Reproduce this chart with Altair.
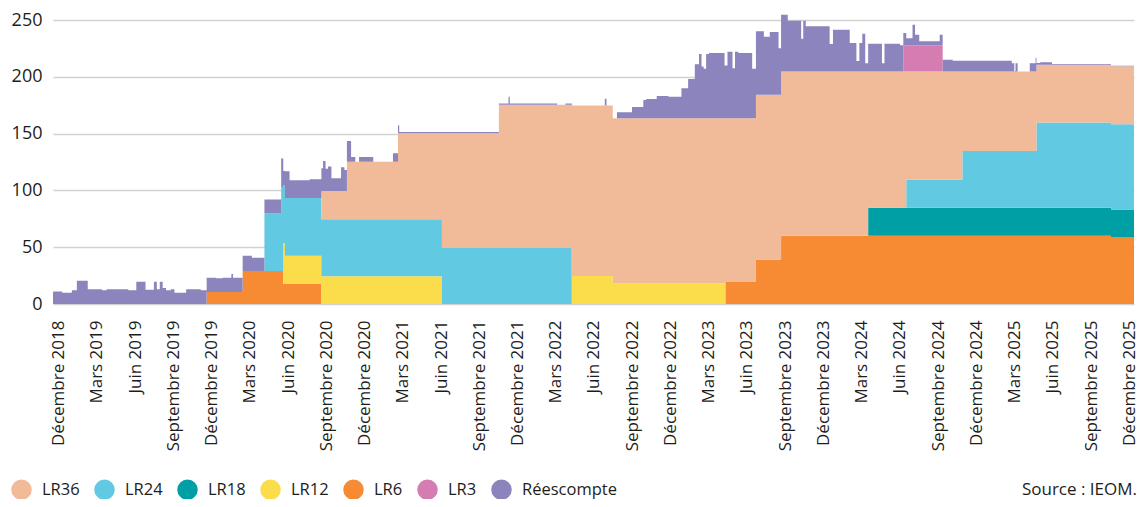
import altair as alt
import pandas as pd

# ---- data (date, value) step breakpoints, Md XPF ----
start_date = "2018-11-17"
end_date = "2025-12-12"

lr6 = [("2018-11-17", 0), ("2019-11-19", 10.6), ("2020-02-13", 29.1), ("2020-05-20", 17.6),
       ("2020-08-19", 0), ("2023-04-11", 19.4), ("2023-06-23", 39.1), ("2023-08-22", 60),
       ("2025-10-18", 58.5)]
lr12 = [("2018-11-17", 0), ("2020-05-20", 36), ("2020-05-24", 24.8), ("2020-08-19", 24.4),
        ("2021-06-03", 0), ("2022-04-09", 24.7), ("2022-07-16", 18.2), ("2023-04-11", 0)]
lr18 = [("2018-11-17", 0), ("2024-03-17", 24.7)]
lr24 = [("2018-11-17", 0), ("2020-04-05", 50.6), ("2020-05-15", 74), ("2020-05-20", 51),
        ("2020-08-19", 50.3), ("2021-06-03", 49.4), ("2022-04-09", 0), ("2024-06-16", 25),
        ("2024-10-28", 50), ("2025-04-23", 75)]
lr36 = [("2018-11-17", 0), ("2020-08-19", 24.7), ("2020-10-19", 50.6), ("2021-02-18", 75.6),
        ("2021-06-03", 101), ("2021-10-17", 126), ("2022-04-09", 150), ("2022-07-16", 145.3),
        ("2023-04-11", 144.1), ("2023-06-23", 145), ("2023-08-22", 144.7), ("2024-03-17", 120),
        ("2024-06-16", 95), ("2024-10-28", 70), ("2025-04-23", 51)]
lr3 = [("2018-11-17", 0), ("2024-06-09", 22.9), ("2024-09-11", 0)]
reescompte = [
    ("2018-11-17", 11), ("2018-12-09", 10), ("2019-01-01", 12), ("2019-01-13", 20.5),
    ("2019-02-08", 13), ("2019-03-14", 12), ("2019-03-25", 13), ("2019-05-16", 12),
    ("2019-06-04", 19.5), ("2019-06-26", 12.5), ("2019-07-16", 19.5), ("2019-07-23", 13),
    ("2019-07-30", 19.5), ("2019-08-06", 14), ("2019-08-14", 12), ("2019-08-26", 13),
    ("2019-09-03", 10), ("2019-10-01", 13), ("2019-11-05", 12), ("2019-11-19", 12.5),
    ("2019-12-11", 12), ("2019-12-27", 12.5), ("2020-01-17", 15.8), ("2020-01-21", 12.5),
    ("2020-02-13", 13.4), ("2020-03-06", 11.6), ("2020-04-05", 12.3), ("2020-05-15", 25),
    ("2020-05-20", 12.4), ("2020-05-24", 23.5), ("2020-06-04", 15.5), ("2020-07-22", 16.5),
    ("2020-08-19", 20), ("2020-08-23", 26.5), ("2020-08-29", 19.6), ("2020-09-04", 21.6),
    ("2020-09-12", 11.2), ("2020-10-05", 21), ("2020-10-13", 18.6), ("2020-10-19", 18.2),
    ("2020-10-29", 4), ("2020-11-08", 0), ("2020-11-17", 4), ("2020-12-21", 0),
    ("2021-02-06", 7.3), ("2021-02-18", 7), ("2021-02-21", 1), ("2021-11-09", 7),
    ("2021-11-12", 1), ("2022-03-05", 0), ("2022-03-25", 1), ("2022-04-10", 0),
    ("2022-06-27", 6), ("2022-07-01", 0), ("2022-07-26", 5.3), ("2022-08-31", 10),
    ("2022-09-27", 16), ("2022-10-04", 17), ("2022-10-29", 19.7), ("2022-11-26", 19),
    ("2022-12-27", 26.5), ("2023-01-12", 34.5), ("2023-01-28", 47.5), ("2023-02-07", 56.5),
    ("2023-02-13", 45.5), ("2023-02-18", 43.5), ("2023-02-24", 56.5), ("2023-03-03", 57.4),
    ("2023-04-09", 46.5), ("2023-04-16", 58.5), ("2023-04-28", 44), ("2023-05-04", 58.5),
    ("2023-05-12", 57.4), ("2023-06-14", 43.5), ("2023-06-23", 56), ("2023-07-12", 51.2),
    ("2023-07-26", 55.3), ("2023-08-16", 41), ("2023-08-22", 50), ("2023-09-07", 44.7),
    ("2023-10-09", 28.8), ("2023-10-14", 44.7), ("2023-10-20", 39.7), ("2023-12-16", 24.1),
    ("2023-12-24", 36.8), ("2024-02-02", 25), ("2024-02-18", 9.3), ("2024-02-25", 25),
    ("2024-03-03", 33.3), ("2024-03-10", 7.3), ("2024-03-17", 24.3), ("2024-04-19", 7.3),
    ("2024-04-25", 24.3), ("2024-06-01", 23), ("2024-06-09", 10.9), ("2024-06-16", 6.4),
    ("2024-07-01", 18.3), ("2024-07-07", 9.4), ("2024-07-17", 3.6), ("2024-09-04", 9.4),
    ("2024-09-11", 10.3), ("2024-10-05", 9.4), ("2025-02-23", 7.3), ("2025-03-01", 0.3),
    ("2025-03-04", 7.3), ("2025-03-09", 0), ("2025-04-07", 7.3), ("2025-04-21", 12),
    ("2025-04-23", 1.4), ("2025-05-02", 2), ("2025-05-30", 0.6)]

# stacking order bottom -> top
stack_series = ["LR6", "LR12", "LR18", "LR24", "LR36", "LR3", "Réescompte"]
series_points = [lr6, lr12, lr18, lr24, lr36, lr3, reescompte]
# legend order and colours
legend_order = ["LR36", "LR24", "LR18", "LR12", "LR6", "LR3", "Réescompte"]
legend_colors = ["#F1BB9A", "#62C9E2", "#009EA5", "#FBDC4A", "#F68B33", "#D57CB3", "#8C84BD"]

tick_dates = ["2018-12-01", "2019-03-01", "2019-06-01", "2019-09-01", "2019-12-01", "2020-03-01",
              "2020-06-01", "2020-09-01", "2020-12-01", "2021-03-01", "2021-06-01", "2021-09-01",
              "2021-12-01", "2022-03-01", "2022-06-01", "2022-09-01", "2022-12-01", "2023-03-01",
              "2023-06-01", "2023-09-01", "2023-12-01", "2024-03-01", "2024-06-01", "2024-09-01",
              "2024-12-01", "2025-03-01", "2025-06-01", "2025-09-01", "2025-12-01"]
month_names = ["Janvier", "Février", "Mars", "Avril", "Mai", "Juin", "Juillet", "Août",
               "Septembre", "Octobre", "Novembre", "Décembre"]
source_text = "Source : IEOM."

# ---- build long table (values held constant between breakpoints) ----
all_dates = sorted({d for pts in series_points for d, _ in pts} | {end_date})
rows = []
for rank, (name, pts) in enumerate(zip(stack_series, series_points)):
    for d in all_dates:
        v = 0
        for pd_, pv in pts:
            if pd_ <= d:
                v = pv
        rows.append({"date": d + "T00:00:00", "series": name, "value": v, "rank": rank})
df = pd.DataFrame(rows)


def dt(s):
    y, m, d = (int(p) for p in s.split("-"))
    return alt.DateTime(year=y, month=m, date=d)


FONT = "Open Sans"
TXT = "#1d1d1b"
W, H = 1081, 284

month_js = "[" + ",".join("'" + m + "'" for m in month_names) + "]"

area = alt.Chart(df).mark_area(interpolate="step-after").encode(
    x=alt.X("date:T",
            scale=alt.Scale(domain=[dt(start_date), dt(end_date)]),
            axis=alt.Axis(values=[dt(t) for t in tick_dates], title=None, grid=False,
                          domain=False, ticks=False, tickSize=0, labelAngle=-90,
                          labelPadding=16, labelFont=FONT, labelFontSize=17, labelColor=TXT,
                          labelExpr=month_js + "[month(datum.value)] + ' ' + year(datum.value)",
                          labelOverlap=False, labelFlush=False)),
    y=alt.Y("value:Q", stack="zero",
            scale=alt.Scale(domain=[0, 250], nice=False),
            axis=alt.Axis(values=[0, 50, 100, 150, 200, 250], title=None, domain=False,
                          ticks=False, tickSize=0, labelPadding=11, labelFont=FONT,
                          labelFontSize=18, labelColor=TXT, gridColor="#d2d2d2",
                          gridWidth=1.3)),
    color=alt.Color("series:N",
                    scale=alt.Scale(domain=legend_order, range=legend_colors),
                    legend=alt.Legend(title=None, orient="none", direction="horizontal",
                                      legendX=-42, legendY=459, symbolType="circle",
                                      symbolSize=420, symbolStrokeWidth=0, symbolOpacity=1,
                                      labelFont=FONT, labelFontSize=16.5, labelColor=TXT,
                                      labelOffset=10, columnPadding=14)),
    order=alt.Order("rank:Q", sort="ascending"),
)

source = alt.Chart(pd.DataFrame({"t": [source_text]})).mark_text(
    align="right", baseline="alphabetic", font=FONT, fontSize=17, color=TXT
).encode(x=alt.value(W + 3), y=alt.value(475), text="t:N")

chart = alt.layer(area, source).properties(
    width=W, height=H,
    autosize=alt.AutoSizeParams(type="none"),
    padding={"left": 45, "top": 12, "right": 5, "bottom": 195},
).configure_view(stroke=None)

chart.save("out.html", embed_options={"renderer": "svg", "actions": False})
